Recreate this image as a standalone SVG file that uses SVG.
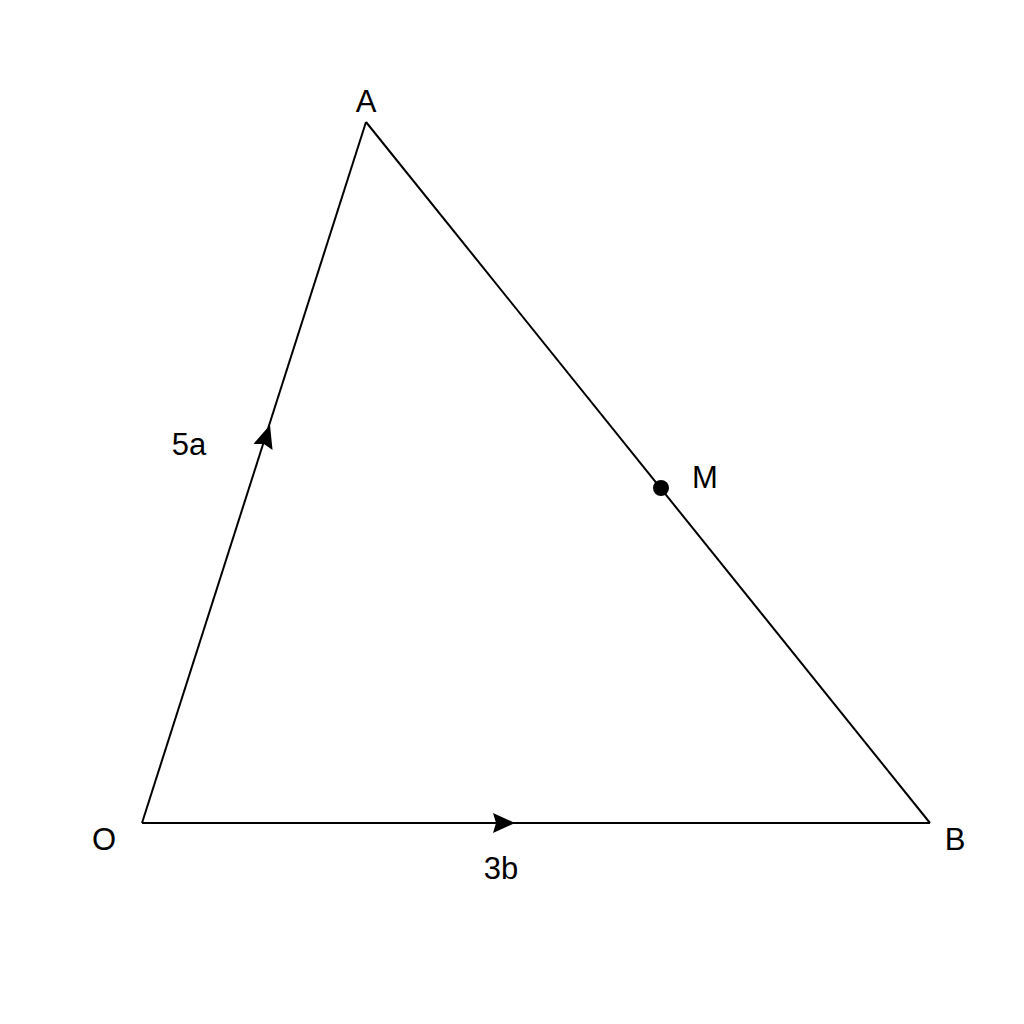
<svg xmlns="http://www.w3.org/2000/svg" width="1024" height="1024" viewBox="0 0 1024 1024">
<style>
.edge{stroke:#000;stroke-width:2;fill:none;stroke-linejoin:miter}
.lbl{font-family:"Liberation Sans",Arial,sans-serif;font-size:31px;fill:#000;text-anchor:middle}
</style>
<rect width="1024" height="1024" fill="#fff"/>
<g id="connectors">
<line class="edge" x1="142" y1="823" x2="366" y2="122"/>
<line class="edge" x1="366" y1="122" x2="930" y2="823"/>
<line class="edge" x1="142" y1="823" x2="930" y2="823"/>
<path d="M515,823 L493,813 L496,823 L493,833 Z" fill="#000"/>
<g transform="translate(270,425) rotate(-72.3)">
<path d="M0,0 L-23,-10 L-20,0 L-23,10 Z" fill="#000"/>
</g>
</g>
<g id="node-O"><text class="lbl" x="104" y="850">O</text></g>
<g id="node-A"><text class="lbl" x="366" y="112">A</text></g>
<g id="node-B"><text class="lbl" x="955" y="850">B</text></g>
<g id="node-M"><circle cx="661" cy="488" r="8" fill="#000"/><text class="lbl" x="705" y="488">M</text></g>
<g id="label-5a"><text class="lbl" x="189" y="455">5a</text></g>
<g id="label-3b"><text class="lbl" x="501" y="879">3b</text></g>
</svg>
